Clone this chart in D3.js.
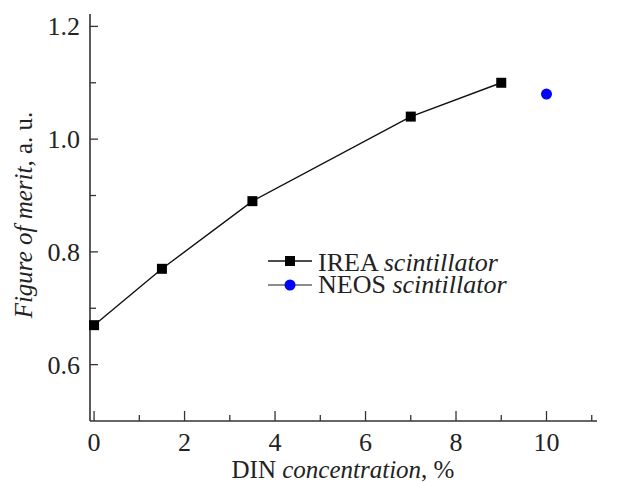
<!DOCTYPE html>
<html>
<head>
<meta charset="utf-8">
<script src="https://cdn.jsdelivr.net/npm/d3@7"></script>
<style>
  body { margin: 0; background: #fff; }
  text { font-family: "Liberation Serif", "DejaVu Serif", serif; fill: #222; }
</style>
</head>
<body>
<div id="chart"></div>
<script>
// data
var ireaConc = [0, 1.5, 3.5, 7, 9];
var ireaMerit = [0.67, 0.77, 0.89, 1.04, 1.10];
var neosConc = [10];
var neosMerit = [1.08];
var xTicks = [0, 2, 4, 6, 8, 10];
var yTicks = [0.6, 0.8, 1.0, 1.2];

var width = 639, height = 482;
var mLeft = 90, mRight = 594, mTop = 14, mBottom = 421;

var svg = d3.select("#chart").append("svg")
    .attr("width", width)
    .attr("height", height);

var x = d3.scaleLinear().domain([-0.09, 11.05]).range([mLeft, mRight]);
var y = d3.scaleLinear().domain([0.5, 1.222]).range([mBottom, mTop]);

// axes lines
svg.append("line")
    .attr("x1", mLeft).attr("x2", mLeft)
    .attr("y1", mTop).attr("y2", mBottom)
    .attr("stroke", "#333").attr("stroke-width", 1.6);
svg.append("line")
    .attr("x1", mLeft).attr("x2", mRight + 3)
    .attr("y1", mBottom).attr("y2", mBottom)
    .attr("stroke", "#333").attr("stroke-width", 1.6);

// x ticks (inward)
var xMinor = d3.range(0, 12, 1);
svg.selectAll(".xt").data(xMinor).enter().append("line")
    .attr("x1", function(d) { return x(d); })
    .attr("x2", function(d) { return x(d); })
    .attr("y1", mBottom)
    .attr("y2", function(d) { return d % 2 === 0 ? mBottom - 10 : mBottom - 6; })
    .attr("stroke", "#333").attr("stroke-width", 1.3);

svg.selectAll(".xl").data(xTicks).enter().append("text")
    .attr("x", function(d) { return x(d); })
    .attr("y", 451)
    .attr("text-anchor", "middle")
    .attr("font-size", 26)
    .text(function(d) { return d; });

// y ticks (inward)
var yMinor = d3.range(0.6, 1.25, 0.1);
svg.selectAll(".yt").data(yMinor).enter().append("line")
    .attr("x1", mLeft)
    .attr("x2", function(d, i) { return i % 2 === 0 ? mLeft + 8 : mLeft + 6; })
    .attr("y1", function(d) { return y(d); })
    .attr("y2", function(d) { return y(d); })
    .attr("stroke", "#333").attr("stroke-width", 1.3);

svg.selectAll(".yl").data(yTicks).enter().append("text")
    .attr("x", 80)
    .attr("y", function(d) { return y(d) + 9; })
    .attr("text-anchor", "end")
    .attr("font-size", 26)
    .text(function(d) { return d.toFixed(1); });

// axis titles
var xt = svg.append("text")
    .attr("x", 343).attr("y", 478)
    .attr("text-anchor", "middle")
    .attr("font-size", 25);
xt.append("tspan").text("DIN ");
xt.append("tspan").attr("font-style", "italic").text("concentration");
xt.append("tspan").text(", %");

var yt = svg.append("text")
    .attr("transform", "translate(32,215) rotate(-90)")
    .attr("text-anchor", "middle")
    .attr("font-size", 25);
yt.append("tspan").attr("font-style", "italic").text("Figure of merit");
yt.append("tspan").text(", a. u.");

// IREA series
var irea = ireaConc.map(function(c, i) { return [c, ireaMerit[i]]; });
svg.append("path")
    .datum(irea)
    .attr("fill", "none")
    .attr("stroke", "#111")
    .attr("stroke-width", 1.4)
    .attr("d", d3.line().x(function(d) { return x(d[0]); }).y(function(d) { return y(d[1]); }));

svg.selectAll(".sq").data(irea).enter().append("rect")
    .attr("x", function(d) { return x(d[0]) - 5; })
    .attr("y", function(d) { return y(d[1]) - 5; })
    .attr("width", 10).attr("height", 10)
    .attr("fill", "#000");

// NEOS series
var neos = neosConc.map(function(c, i) { return [c, neosMerit[i]]; });
svg.selectAll(".dot").data(neos).enter().append("circle")
    .attr("cx", function(d) { return x(d[0]); })
    .attr("cy", function(d) { return y(d[1]); })
    .attr("r", 5.5)
    .attr("fill", "#0000ff");

// legend
var lg = svg.append("g");
lg.append("line").attr("x1", 268).attr("x2", 312).attr("y1", 261).attr("y2", 261)
    .attr("stroke", "#111").attr("stroke-width", 1.4);
lg.append("rect").attr("x", 285).attr("y", 256).attr("width", 10).attr("height", 10).attr("fill", "#000");
lg.append("line").attr("x1", 268).attr("x2", 312).attr("y1", 285).attr("y2", 285)
    .attr("stroke", "#666").attr("stroke-width", 1.4);
lg.append("circle").attr("cx", 290).attr("cy", 285).attr("r", 5.5).attr("fill", "#0000ff");

var l1 = lg.append("text").attr("x", 318).attr("y", 271).attr("font-size", 26);
l1.append("tspan").text("IREA ");
l1.append("tspan").attr("font-style", "italic").text("scintillator");
var l2 = lg.append("text").attr("x", 318).attr("y", 293).attr("font-size", 26);
l2.append("tspan").text("NEOS ");
l2.append("tspan").attr("font-style", "italic").text("scintillator");
</script>
</body>
</html>
